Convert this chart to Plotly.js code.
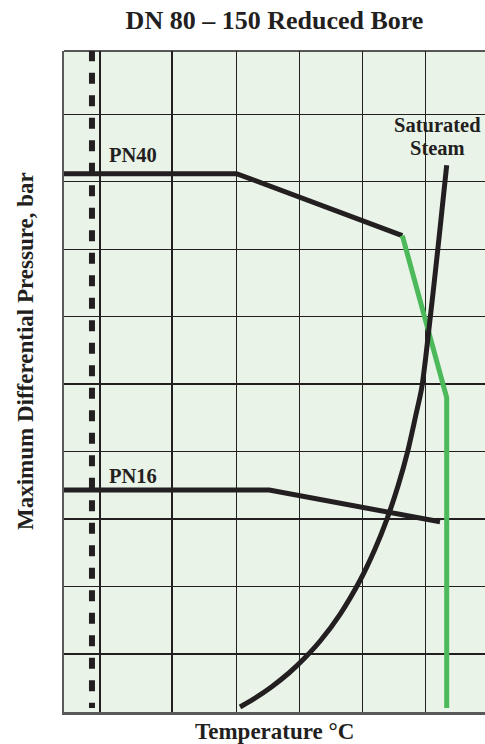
<!DOCTYPE html>
<html>
<head>
<meta charset="utf-8">
<script src="https://cdn.plot.ly/plotly-3.0.1.min.js"></script>
<style>html,body{margin:0;padding:0;background:#fff;}#chart{width:485px;height:744px;}</style>
</head>
<body>
<div id="chart"></div>
<script>
// Temperature (°C-like units) and pressure (bar-like units)
const pn40Temp = [10, 150, 281.6];
const pn40Pres = [40.6, 40.6, 36.0];
const greenTemp = [281.6, 316.8, 316.8];
const greenPres = [36.0, 24.0, 1.0];
const pn16Temp = [10, 176, 311.5];
const pn16Pres = [17.15, 17.15, 14.8];
const steamTemp = [152.8, 163.7, 177.7, 191.6, 204.1, 216.4, 232.3, 248.2, 259.9, 269.4, 278.4, 285.9, 292.5, 296.8, 299.9, 302.6, 306.2, 310.1, 314.3, 316.8];
const steamPres = [1.07, 1.67, 2.56, 3.59, 4.70, 5.96, 7.96, 10.48, 12.78, 15.0, 17.52, 20.04, 22.78, 24.63, 26.78, 29.0, 31.96, 35.30, 39.0, 41.22];
const minTemp = [35.3, 35.3];
const minPres = [49.75, 1.0];
const xGrid = [41.7, 98.8, 150, 200, 250, 300];
const yGrid = [5, 10, 15, 20, 25, 30, 35, 40, 45];

const ink = '#231f20';
const serif = '"Liberation Serif", "DejaVu Serif", serif';

const traces = [
  {x: minTemp, y: minPres, mode: 'lines', line: {color: ink, width: 6, dash: '11px,11.5px'}, hoverinfo: 'skip'},
  {x: pn40Temp, y: pn40Pres, mode: 'lines', line: {color: ink, width: 5}, hoverinfo: 'skip'},
  {x: pn16Temp, y: pn16Pres, mode: 'lines', line: {color: ink, width: 5}, hoverinfo: 'skip'},
  {x: greenTemp, y: greenPres, mode: 'lines', line: {color: '#4cb95a', width: 5}, hoverinfo: 'skip'},
  {x: steamTemp, y: steamPres, mode: 'lines', line: {color: ink, width: 5, shape: 'spline', smoothing: 0.8}, hoverinfo: 'skip'}
];

const lbl = {family: serif, size: 20.5, color: ink};

const layout = {
  width: 485, height: 744,
  margin: {l: 64, r: 0, t: 51, b: 32},
  paper_bgcolor: '#ffffff',
  plot_bgcolor: '#e9f3e8',
  showlegend: false,
  title: {text: '<b>DN 80 – 150 Reduced Bore</b>', font: {family: serif, size: 26, color: ink},
          x: 0.5, xref: 'paper', y: 1 - 20/744, yref: 'container', yanchor: 'middle'},
  xaxis: {range: [13.1, 347.2], tickvals: xGrid, showticklabels: false, ticks: '',
          showgrid: true, gridcolor: ink, gridwidth: 1.3, zeroline: false,
          showline: true, linecolor: '#58595b', linewidth: 2.5},
  yaxis: {range: [0.70, 49.69], tickvals: yGrid, showticklabels: false, ticks: '',
          showgrid: true, gridcolor: ink, gridwidth: 1.3, zeroline: false,
          showline: true, linecolor: '#58595b', linewidth: 2.5},
  shapes: [
    {type: 'line', xref: 'paper', yref: 'paper', x0: 0, x1: 1, y0: 1, y1: 1, line: {color: ink, width: 1.3}}
  ],
  annotations: [
    {xref: 'paper', yref: 'paper', x: 0.5, y: -(731 - 712) / 661, xanchor: 'center', yanchor: 'middle',
     text: '<b>Temperature °C</b>', showarrow: false, font: {family: serif, size: 23, color: ink}},
    {xref: 'paper', yref: 'paper', x: (25 - 64) / 421, y: (712 - 351) / 661, xanchor: 'center', yanchor: 'middle',
     textangle: -90, text: '<b>Maximum Differential Pressure, bar</b>', showarrow: false,
     font: {family: serif, size: 23, color: ink}},
    {x: 47.2, y: 41.96, xanchor: 'left', yanchor: 'middle', text: '<b>PN40</b>', showarrow: false, font: lbl},
    {x: 47.2, y: 18.2, xanchor: 'left', yanchor: 'middle', text: '<b>PN16</b>', showarrow: false, font: lbl},
    {x: 309.5, y: 44.19, xanchor: 'center', yanchor: 'middle', text: '<b>Saturated</b>', showarrow: false, font: lbl},
    {x: 309.5, y: 42.48, xanchor: 'center', yanchor: 'middle', text: '<b>Steam</b>', showarrow: false, font: lbl}
  ]
};

Plotly.newPlot('chart', traces, layout, {displayModeBar: false, staticPlot: true});
</script>
</body>
</html>
